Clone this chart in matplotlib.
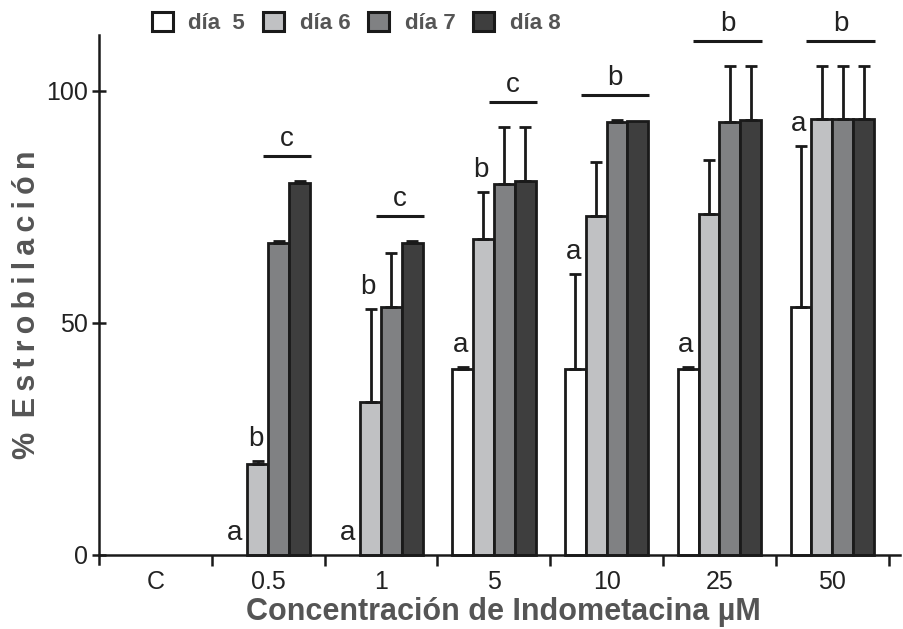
import numpy as np
import matplotlib
matplotlib.use('Agg')
import matplotlib.pyplot as plt
from matplotlib.patches import Patch

plt.rcParams['font.family'] = ['Liberation Sans', 'DejaVu Sans']

# data (% strobilation, mean and upper SD)
CONCENTRATIONS = ['C', '0.5', '1', '5', '10', '25', '50']
DAYS = ['día  5', 'día 6', 'día 7', 'día 8']
DAY5 = [0, 0, 0, 40.0, 40.0, 40.0, 53.5]
DAY6 = [0, 19.6, 33.0, 68.0, 73.0, 73.5, 93.9]
DAY7 = [0, 67.3, 53.5, 80.0, 93.4, 93.4, 93.9]
DAY8 = [0, 80.2, 67.2, 80.5, 93.5, 93.8, 93.9]
ERR5 = [0, 0, 0, 0.5, 20.6, 0.5, 34.7]
ERR6 = [0, 0.6, 20.0, 10.3, 11.8, 11.6, 11.5]
ERR7 = [0, 0.3, 11.5, 12.3, 0.4, 12.0, 11.5]
ERR8 = [0, 0.5, 0.5, 11.8, 0, 11.6, 11.5]

# significance letters: (group, bar, letter) and (group, first bar, last bar, letter)
BAR_LETTERS = [(1, 0, 'a'), (1, 1, 'b'), (2, 0, 'a'), (2, 1, 'b'), (3, 0, 'a'),
               (3, 1, 'b'), (4, 0, 'a'), (5, 0, 'a'), (6, 0, 'a')]
GROUP_LETTERS = [(1, 2, 3, 'c'), (2, 2, 3, 'c'), (3, 2, 3, 'c'),
                 (4, 1, 3, 'b'), (5, 1, 3, 'b'), (6, 1, 3, 'b')]

COLORS = ['#ffffff', '#c0c1c3', '#808183', '#3e3e3e']
EDGE = '#1a1a1a'
GREY_TXT = '#555555'
BAR_W = 0.185

vals = np.array([DAY5, DAY6, DAY7, DAY8]).T
errs = np.array([ERR5, ERR6, ERR7, ERR8]).T
x = np.arange(len(CONCENTRATIONS))

fig = plt.figure(figsize=(9.04, 6.29), dpi=100)
ax = fig.add_axes([0.1095, 0.1029, 0.886, 0.841])

for j in range(4):
    xs = x + (j - 1.5) * BAR_W
    nz = vals[:, j] > 0  # zero bars are not visible in the original
    ax.bar(xs[nz], vals[nz, j], BAR_W, color=COLORS[j], edgecolor=EDGE,
           linewidth=2.0, zorder=2)
    m = errs[:, j] > 0
    ax.errorbar(xs[m], vals[m, j],
                yerr=[np.zeros(m.sum()), errs[m, j]],
                fmt='none', ecolor=EDGE, elinewidth=2.0, capsize=4,
                capthick=2.0, zorder=3)

tops = vals + errs
for g, b, lab in BAR_LETTERS:
    xc = g + (b - 1.5) * BAR_W - 0.02
    ax.text(xc, tops[g, b] + 3.2, lab, ha='center', va='baseline',
            fontsize=20, color='#222222', clip_on=False)

for g, b0, b1, lab in GROUP_LETTERS:
    x0 = g + (b0 - 2) * BAR_W - 0.045
    x1 = g + (b1 - 1) * BAR_W + 0.01
    yl = tops[g, b0:b1 + 1].max() + 5.3
    ax.plot([x0, x1], [yl, yl], color=EDGE, lw=2.2, clip_on=False,
            solid_capstyle='butt')
    ax.text((x0 + x1) / 2, yl + 2.2, lab, ha='center', va='baseline',
            fontsize=20, color='#222222', clip_on=False)

ax.set_xlim(-0.5, 6.6)
ax.set_ylim(-2, 112)
for s in ['top', 'right']:
    ax.spines[s].set_visible(False)
ax.spines['bottom'].set_position(('data', 0))
ax.spines['bottom'].set_linewidth(1.8)
ax.spines['left'].set_linewidth(1.8)
ax.spines['bottom'].set_color(EDGE)
ax.spines['left'].set_color(EDGE)

ax.set_xticks(x)
ax.set_xticklabels(CONCENTRATIONS)
ax.set_xticks(np.arange(0.5, 7, 1), minor=True)
ax.tick_params(axis='x', which='major', length=0, pad=11, labelsize=18,
               labelcolor='#222222')
ax.tick_params(axis='x', which='minor', length=8, width=1.8, direction='out',
               color=EDGE)
ax.set_yticks([0, 50, 100])
ax.tick_params(axis='y', length=10, width=1.8, direction='inout', pad=3,
               labelsize=18, labelcolor='#222222', color=EDGE)

ax.set_xlabel('Concentración de Indometacina µM', fontsize=22,
              fontweight='bold', color=GREY_TXT)
ax.xaxis.set_label_coords(0.505, -0.062)
ylab = '%\u2009 ' + '\u2009'.join('Estrobilación')
ax.set_ylabel(ylab, fontsize=22, fontweight='bold', color=GREY_TXT)
ax.yaxis.set_label_coords(-0.071, 0.49)

handles = [Patch(facecolor=c, edgecolor=EDGE, linewidth=2.2, label=d)
           for c, d in zip(COLORS, DAYS)]
fig.legend(handles=handles, loc='center', bbox_to_anchor=(0.394, 0.963),
           ncol=4, frameon=False, handlelength=0.95, handleheight=0.95,
           handletextpad=0.7, columnspacing=0.8,
           prop={'size': 16, 'weight': 'bold'}, labelcolor=GREY_TXT,
           borderaxespad=0, borderpad=0)

fig.savefig('out.png', dpi=100, facecolor='white')
